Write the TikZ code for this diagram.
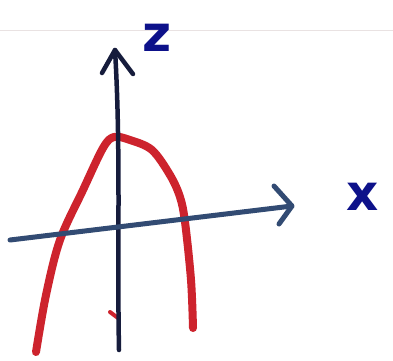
\documentclass[tikz,border=0pt]{standalone}
\usepackage{fontspec}
\setsansfont{DejaVu Sans}
\definecolor{navyink}{RGB}{22,28,60}
\definecolor{steelink}{RGB}{50,75,115}
\definecolor{redink}{RGB}{205,35,45}
\begin{document}
\begin{tikzpicture}[x=1pt,y=-1pt,
  axisv/.style={draw=navyink, line width=4.5pt, line cap=round, line join=round},
  axish/.style={draw=steelink, line width=5pt, line cap=round, line join=round},
  curve/.style={draw=redink, line width=8pt, line cap=round, line join=round},
  lbl/.style={text=navyink!60!blue, font=\sffamily\bfseries\fontsize{50}{50}\selectfont, inner sep=0pt}]
\useasboundingbox (0,0) rectangle (393,360);
\fill[white] (0,0) rectangle (393,360);
% faint ruled line
\draw[red!15!gray!20, line width=1pt] (0,30) -- (393,30);
% red parabola
\draw[curve] plot[smooth, tension=0.55] coordinates {(36,352) (46,295) (60,240) (83,190) (103,148) (114,137) (130,140) (152,150) (170,175) (180,197) (185,222) (191,280) (193,328)};
% small red mark
\draw[redink, line width=4pt, line cap=round] (110,312) -- (118,318);
% axes
\coordinate (zt) at (115,50);
\coordinate (zb) at (119,350);
\coordinate (xl) at (10,240);
\coordinate (xr) at (292,206);
\draw[axisv] (zb) .. controls (117,250) and (121,150) .. (zt);
\draw[axisv] (102,73) -- (zt) -- (133,74);
\draw[axish] (xl) -- (xr);
\draw[axish] (274,186) -- (xr) -- (279,224);
\node[lbl] (zlab) at (157,38) {z};
\node[lbl] (xlab) at (363,197) {x};
\end{tikzpicture}
\end{document}
